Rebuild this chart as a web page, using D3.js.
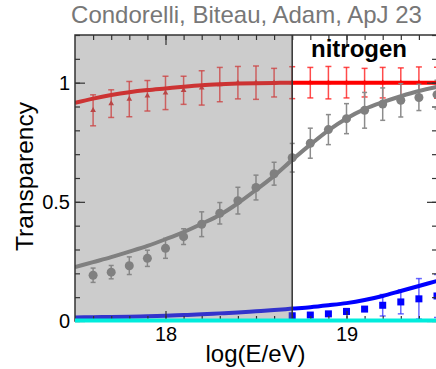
<!DOCTYPE html>
<html>
<head>
<meta charset="utf-8">
<script src="https://cdn.jsdelivr.net/npm/d3@7"></script>
<style>
  body { margin: 0; background: #fff; }
  svg { display: block; font-family: "Liberation Sans", Arial, sans-serif; }
</style>
</head>
<body>
<div class="chart"></div>
<script>
// energy grid of the model curves
const curveE = [17.5, 17.6, 17.7, 17.8, 17.9, 18.0, 18.1, 18.2, 18.3, 18.4, 18.5,
                18.6, 18.7, 18.8, 18.9, 19.0, 19.1, 19.2, 19.3, 19.4, 19.5];
const redCurve = [0.915, 0.933, 0.948, 0.96, 0.969, 0.976, 0.983, 0.989, 0.993, 0.996, 0.998,
                  0.999, 1.0, 1.0, 1.0, 1.0, 1.0, 1.0, 1.0, 1.0, 1.0];
const grayCurve = [0.226, 0.247, 0.268, 0.291, 0.315, 0.343, 0.373, 0.408, 0.445, 0.494, 0.55,
                   0.609, 0.676, 0.74, 0.80, 0.85, 0.889, 0.918, 0.943, 0.965, 0.982];
const blueCurve = [0.015, 0.016, 0.017, 0.018, 0.02, 0.022, 0.025, 0.028, 0.032, 0.036, 0.041,
                   0.046, 0.052, 0.058, 0.066, 0.075, 0.088, 0.105, 0.126, 0.147, 0.168];
const cyanCurve = [0, 0, 0, 0, 0, 0, 0, 0, 0, 0, 0, 0, 0, 0, 0, 0, 0, 0, 0, 0, 0];

// points with error bars
const pointE = [17.6, 17.7, 17.8, 17.9, 18.0, 18.1, 18.2, 18.3, 18.4, 18.5,
                18.6, 18.7, 18.8, 18.9, 19.0, 19.1, 19.2, 19.3, 19.4, 19.5];
const redVal = [0.884, 0.912, 0.931, 0.945, 0.957, 0.968, 0.978, 0.992, 1.0, 1.0,
                1.0, 1.0, 1.0, 1.0, 1.0, 1.0, 1.0, 1.0, 1.0, 1.0];
const redErr = [0.065, 0.058, 0.074, 0.064, 0.07, 0.059, 0.072, 0.072, 0.068, 0.07,
                0.06, 0.067, 0.064, 0.068, 0.064, 0.06, 0.064, 0.062, 0.066, 0.065];
const grayVal = [0.192, 0.205, 0.232, 0.263, 0.305, 0.354, 0.406, 0.452, 0.505, 0.56,
                 0.618, 0.685, 0.746, 0.803, 0.849, 0.884, 0.91, 0.926, 0.938, 0.95];
const grayErr = [0.03, 0.028, 0.037, 0.034, 0.042, 0.033, 0.052, 0.045, 0.056, 0.052,
                 0.048, 0.06, 0.063, 0.063, 0.063, 0.075, 0.068, 0.07, 0.055, 0.06];
const blueE = [18.7, 18.8, 18.9, 19.0, 19.1, 19.2, 19.3, 19.4, 19.5];
const blueVal = [0.022, 0.025, 0.03, 0.04, 0.05, 0.066, 0.08, 0.093, 0.105];
const blueErr = [0.004, 0.004, 0.006, 0.012, 0.008, 0.045, 0.05, 0.085, 0.09];

const xTicks = [18, 19];
const yTicks = [0, 0.5, 1];
const shadeEnd = 18.7;
const title = "Condorelli, Biteau, Adam, ApJ 23";
const element = "nitrogen";

const W = 436, H = 369;
const svg = d3.select(".chart").append("svg")
              .attr("width", W)
              .attr("height", H)

const x = d3.scaleLinear().domain([17.5, 19.5]).range([75, 437])
const y = d3.scaleLinear().domain([0, 1.2]).range([321, 35])

svg.append("defs").append("clipPath").attr("id", "plotclip")
   .append("rect")
   .attr("x", x(17.5)).attr("y", y(1.2))
   .attr("width", x(19.5) - x(17.5)).attr("height", y(0) - y(1.2))

const plot = svg.append("g").attr("clip-path", "url(#plotclip)")

const line = d3.line()
               .x((d, i) => x(curveE[i]))
               .y(d => y(d))
               .curve(d3.curveMonotoneX)

function errorBars(g, es, vals, errs, color, cap){
	es.forEach((e, i) => {
		let cx = x(e), lo = y(vals[i] - errs[i]), hi = y(vals[i] + errs[i])
		g.append("line").attr("x1", cx).attr("x2", cx).attr("y1", lo).attr("y2", hi)
		 .attr("stroke", color).attr("stroke-width", 1.5)
		g.append("line").attr("x1", cx - cap).attr("x2", cx + cap).attr("y1", lo).attr("y2", lo)
		 .attr("stroke", color).attr("stroke-width", 1.5)
		g.append("line").attr("x1", cx - cap).attr("x2", cx + cap).attr("y1", hi).attr("y2", hi)
		 .attr("stroke", color).attr("stroke-width", 1.5)
	})
}

// red points + curve
errorBars(plot, pointE, redVal, redErr, "rgba(255,30,30,0.8)", 3)
plot.selectAll(".redpt").data(pointE).enter().append("path")
    .attr("class", "redpt")
    .attr("d", d3.symbol().type(d3.symbolTriangle).size(14))
    .attr("transform", (d, i) => "translate(" + x(d) + "," + y(redVal[i]) + ")")
    .attr("fill", "#e02020")
plot.append("path").attr("d", line(redCurve))
    .attr("fill", "none").attr("stroke", "#ff0000").attr("stroke-width", 4)

// gray points + curve
errorBars(plot, pointE, grayVal, grayErr, "#8c8c8c", 2.5)
plot.append("path").attr("d", line(grayCurve))
    .attr("fill", "none").attr("stroke", "#808080").attr("stroke-width", 4)
plot.selectAll(".graypt").data(pointE).enter().append("circle")
    .attr("class", "graypt")
    .attr("cx", d => x(d))
    .attr("cy", (d, i) => y(grayVal[i]))
    .attr("r", 4.5)
    .attr("fill", "#808080")

// blue points + curve
errorBars(plot, blueE, blueVal, blueErr, "rgba(40,40,255,0.7)", 3)
plot.selectAll(".bluept").data(blueE).enter().append("rect")
    .attr("class", "bluept")
    .attr("x", d => x(d) - 3.5)
    .attr("y", (d, i) => y(blueVal[i]) - 3.5)
    .attr("width", 7).attr("height", 7)
    .attr("fill", "#0000ff")
plot.append("path").attr("d", line(blueCurve))
    .attr("fill", "none").attr("stroke", "#0000ff").attr("stroke-width", 4)

// shaded band below the ankle
plot.append("rect")
    .attr("x", x(17.5)).attr("y", y(1.2))
    .attr("width", x(shadeEnd) - x(17.5)).attr("height", y(0) - y(1.2))
    .attr("fill", "rgba(128,128,128,0.4)")

svg.append("line")
   .attr("x1", x(shadeEnd)).attr("x2", x(shadeEnd)).attr("y1", y(1.2)).attr("y2", y(0))
   .attr("stroke", "#333").attr("stroke-width", 1.5)

// axes: ticks point inward
const minorX = d3.range(176, 195).map(d => d / 10)
const minorY = d3.range(0, 13).map(d => d / 10)

function styleAxis(g){
	g.select(".domain").remove()
	g.selectAll("line").attr("stroke", "#333").attr("stroke-width", 1.2)
	g.selectAll("text").attr("font-size", 20).attr("fill", "#000")
}

svg.append("g").attr("transform", "translate(0," + y(0) + ")")
   .call(d3.axisBottom(x).tickValues(minorX).tickSizeInner(-5).tickSizeOuter(0).tickFormat(""))
   .call(styleAxis)
svg.append("g").attr("transform", "translate(0," + y(0) + ")")
   .call(d3.axisBottom(x).tickValues(xTicks).tickSizeInner(-10).tickSizeOuter(0).tickPadding(6).tickFormat(d3.format("d")))
   .call(styleAxis)
svg.append("g").attr("transform", "translate(0," + y(1.2) + ")")
   .call(d3.axisTop(x).tickValues(minorX).tickSizeInner(-5).tickSizeOuter(0).tickFormat(""))
   .call(styleAxis)
svg.append("g").attr("transform", "translate(0," + y(1.2) + ")")
   .call(d3.axisTop(x).tickValues(xTicks).tickSizeInner(-10).tickSizeOuter(0).tickFormat(""))
   .call(styleAxis)
svg.append("g").attr("transform", "translate(" + x(17.5) + ",0)")
   .call(d3.axisLeft(y).tickValues(minorY).tickSizeInner(-5).tickSizeOuter(0).tickFormat(""))
   .call(styleAxis)
svg.append("g").attr("transform", "translate(" + x(17.5) + ",0)")
   .call(d3.axisLeft(y).tickValues(yTicks).tickSizeInner(-10).tickSizeOuter(0).tickPadding(5).tickFormat(d => d))
   .call(styleAxis)
svg.append("g").attr("transform", "translate(" + x(19.5) + ",0)")
   .call(d3.axisRight(y).tickValues(minorY).tickSizeInner(-5).tickSizeOuter(0).tickFormat(""))
   .call(styleAxis)
svg.append("g").attr("transform", "translate(" + x(19.5) + ",0)")
   .call(d3.axisRight(y).tickValues(yTicks).tickSizeInner(-10).tickSizeOuter(0).tickFormat(""))
   .call(styleAxis)

// frame
svg.append("rect")
   .attr("x", x(17.5)).attr("y", y(1.2))
   .attr("width", x(19.5) - x(17.5)).attr("height", y(0) - y(1.2))
   .attr("fill", "none").attr("stroke", "#333").attr("stroke-width", 1.5)

// cyan curve sits on the bottom edge, drawn over the frame
svg.append("path").attr("d", line(cyanCurve))
   .attr("transform", "translate(0,-0.5)")
   .attr("fill", "none").attr("stroke", "#00ecdc").attr("stroke-width", 4)

// texts
svg.append("text").attr("x", 246.5).attr("y", 23)
   .attr("text-anchor", "middle").attr("font-size", 24).attr("fill", "#777")
   .text(title)
svg.append("text").attr("x", 311).attr("y", 57)
   .attr("font-size", 24).attr("font-weight", "bold").attr("fill", "#000")
   .text(element)
svg.append("text").attr("x", 255.5).attr("y", 362)
   .attr("text-anchor", "middle").attr("font-size", 24).attr("fill", "#000")
   .text("log(E/eV)")
svg.append("text").attr("transform", "translate(33,176.5) rotate(-90)")
   .attr("text-anchor", "middle").attr("font-size", 24.5).attr("fill", "#000")
   .text("Transparency")
</script>
</body>
</html>
